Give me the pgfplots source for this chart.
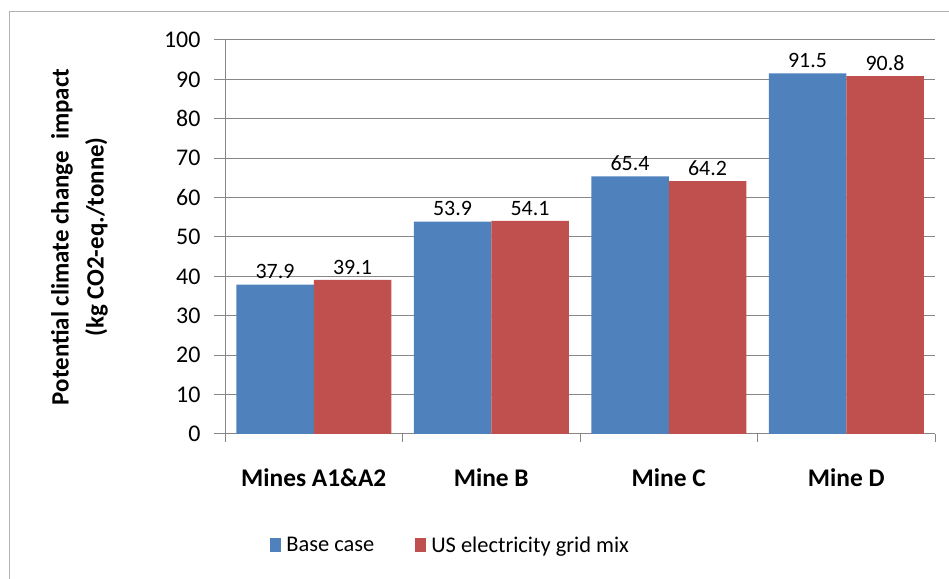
\documentclass[border=0pt]{standalone}
\usepackage{pgfplots}
\pgfplotsset{compat=1.18}
\usepackage{fontspec}
\setmainfont{Carlito}
\definecolor{cblue}{HTML}{4F81BD}
\definecolor{cred}{HTML}{C0504D}
\definecolor{gridgray}{HTML}{878787}
\begin{document}
\begin{tikzpicture}[x=1bp,y=1bp]
\useasboundingbox (0,0) rectangle (949,579);
\draw[gray!60, line width=1.5bp] (9.5,567.5) rectangle (965,-20);
\begin{axis}[
  at={(225bp,145bp)}, anchor=south west,
  scale only axis, width=710bp, height=394bp,
  ybar=0pt, bar width=77.5bp,
  xmin=-0.5, xmax=3.5, ymin=0, ymax=100,
  ytick={0,10,...,100},
  xtick={0,1,2,3},
  xticklabels={Mines A1\&A2, Mine B, Mine C, Mine D},
  minor xtick={-0.5,0.5,1.5,2.5,3.5},
  axis x line*=bottom, axis y line*=left,
  axis line style={gridgray, line width=1bp, -},
  tick align=outside,
  major tick length=11bp, minor tick length=8bp,
  x tick style={draw=none}, minor x tick style={draw=gridgray, line width=1bp},
  y tick style={gridgray, line width=1bp},
  ymajorgrids, grid style={gridgray, line width=1bp},
  /pgf/number format/assume math mode=true,
  yticklabel style={font=\fontsize{24}{28}\selectfont, text=black, xshift=-10bp},
  xticklabel style={font=\fontsize{25.5}{28}\selectfont\bfseries, text=black, yshift=-20bp},
  ylabel={Potential climate change~ impact\\(kg CO2-eq./tonne)},
  ylabel style={font=\fontsize{25}{35}\selectfont\bfseries, align=center, at={(axis description cs:-0.205,0.5)}, anchor=center},
  nodes near coords={\pgfmathprintnumber[fixed,fixed zerofill,precision=1]{\pgfplotspointmeta}},
  every node near coord/.append style={font=\fontsize{22}{26}\selectfont, text=black, anchor=south, yshift=2bp},
  legend columns=2,
  legend style={at={(0.32,-0.2817)}, anchor=center, draw=none, font=\fontsize{22.5}{26}\selectfont,
    /tikz/every even column/.append style={column sep=36bp},
    nodes={inner xsep=5bp}},
  legend image code/.code={\fill[#1] (0bp,-7bp) rectangle (11bp,7bp);},
]
\addplot[fill=cblue, draw=none] coordinates {(0,37.9) (1,53.9) (2,65.4) (3,91.5)};
\addplot[fill=cred, draw=none] coordinates {(0,39.1) (1,54.1) (2,64.2) (3,90.8)};
\legend{Base case, US electricity grid mix}
\end{axis}
\end{tikzpicture}
\end{document}
